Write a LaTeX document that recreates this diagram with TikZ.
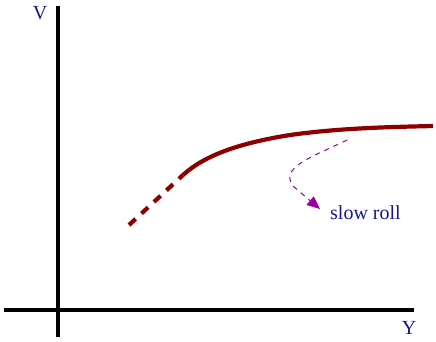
\documentclass[tikz,border=0pt]{standalone}
\usepackage{fontspec}
\setmainfont{Liberation Serif}
\usetikzlibrary{arrows.meta}
\definecolor{curvered}{RGB}{140,0,0}
\definecolor{rollpurple}{RGB}{150,0,160}
\definecolor{labelblue}{RGB}{20,20,150}
\tikzset{
  axis/.style={line width=4pt, black},
  potential/.style={line width=4.2pt, curvered},
  lbl/.style={text=labelblue, font=\fontsize{20}{24}\selectfont, inner sep=0pt},
  rollarrow/.style={rollpurple, line width=1pt, dash pattern=on 5pt off 5pt, -{Triangle[length=13pt,width=11pt]}}
}
\begin{document}
\begin{tikzpicture}[x=1pt,y=-1pt]
\useasboundingbox (0,0) rectangle (436,341);
% axes
\coordinate (vtop) at (58,6);
\coordinate (vbot) at (58,337);
\coordinate (hl) at (4,310);
\coordinate (hr) at (414,310);
\draw[axis] (vbot) -- (vtop);
\draw[axis] (hl) -- (hr);
\node[lbl] (V) at (40,13) {V};
\node[lbl] (Y) at (409,328) {Y};
% potential
\coordinate (d0) at (129,225);
\coordinate (d1) at (183,175);
\draw[potential, dash pattern=on 9pt off 8pt] (d0) -- (d1);
\draw[potential] (d1) .. controls (205,155) and (240,143) .. (290,135)
  .. controls (340,128) and (390,127) .. (433,126);
% slow roll
\coordinate (r0) at (347,140);
\coordinate (r1) at (320,209);
\draw[rollarrow] (r0) .. controls (310,158) and (278,168) .. (294,187) -- (r1);
\node[lbl, anchor=west] (sr) at (330,213) {slow roll};
\end{tikzpicture}
\end{document}
